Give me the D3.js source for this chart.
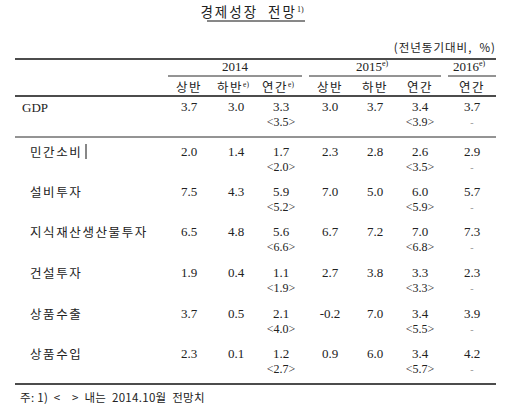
<!DOCTYPE html>
<html><head><meta charset="utf-8">
<script src="https://cdn.jsdelivr.net/npm/d3@7"></script>
<style>body{margin:0;background:#fff} text{white-space:pre}</style></head>
<body><svg id="c" width="505" height="411"></svg>
<script>
const categories = ["GDP","민간소비","설비투자","지식재산생산물투자","건설투자","상품수출","상품수입"];
const columns = ["상반","하반","연간","상반","하반","연간","연간"];
const colSup = ["","e)","e)","","","",""];
const years = [{y:"2014",sup:"",from:0,to:2},{y:"2015",sup:"e)",from:3,to:5},{y:"2016",sup:"e)",from:6,to:6}];
const values = [
 ["3.7","3.0","3.3","3.0","3.7","3.4","3.7"],
 ["2.0","1.4","1.7","2.3","2.8","2.6","2.9"],
 ["7.5","4.3","5.9","7.0","5.0","6.0","5.7"],
 ["6.5","4.8","5.6","6.7","7.2","7.0","7.3"],
 ["1.9","0.4","1.1","2.7","3.8","3.3","2.3"],
 ["3.7","0.5","2.1","-0.2","7.0","3.4","3.9"],
 ["2.3","0.1","1.2","0.9","6.0","3.4","4.2"]];
const prior = [
 ["<3.5>","<3.9>","-"],["<2.0>","<3.5>","-"],["<5.2>","<5.9>","-"],["<6.6>","<6.8>","-"],
 ["<1.9>","<3.3>","-"],["<4.0>","<5.5>","-"],["<2.7>","<5.7>","-"]];
const title="경제성장  전망", unit="(전년동기대비,  %)", note="주: 1)  <    >  내는  2014.10월  전망치";

const svg=d3.select("#c");
const serif="'Liberation Serif','DejaVu Serif',serif", kr="'Noto Sans CJK KR',sans-serif";
const col="#222";
const x=d3.scaleOrdinal().domain(d3.range(7)).range([189,236,281,330,375,420,472]);
const y=d3.scaleOrdinal().domain(d3.range(7)).range([111,156,196,236,277,318,358]);
const line=(x1,x2,yy,w)=>svg.append("line").attr("x1",x1).attr("x2",x2).attr("y1",yy).attr("y2",yy).attr("stroke","#111").attr("stroke-width",w);
const txt=(s,xx,yy,opt={})=>svg.append("text").attr("x",xx).attr("y",yy).attr("text-anchor",opt.a||"middle")
  .attr("font-family",opt.f||serif).attr("font-size",opt.s||13).attr("letter-spacing",opt.ls||0).attr("fill",col).text(s);

const t=txt(title,252,17,{f:kr,s:13.5,ls:2});
t.append("tspan").attr("font-size",8).attr("dy",-5).attr("letter-spacing",0).attr("font-family",serif).text("1)");
line(207,305,21,1);
txt(unit,496,52,{a:"end",f:kr,s:11.5,ls:1});
line(15,496,59,1.3);
years.forEach(d=>{
  const cx=(x(d.from)+x(d.to))/2;
  const e=txt(d.y,cx-(d.sup?3:0),71);
  if(d.sup) e.append("tspan").attr("font-size",8).attr("dy",-5).text(d.sup);
  line(x(d.from)-(d.from===6?24:21),x(d.to)+(d.to===6?24:21),76,0.9);
});
columns.forEach((c,i)=>{
  const e=txt(c,x(i)-(colSup[i]?3:0),92,{f:kr,s:12.5,ls:1.5});
  if(colSup[i]) e.append("tspan").attr("font-size",7.5).attr("dy",-5).attr("letter-spacing",0).attr("font-family",serif).text(colSup[i]);
});
line(15,496,96,1.3);
categories.forEach((c,r)=>{
  txt(c,r===0?22:30,y(r)+1,{a:"start",f:r===0?serif:kr,s:r===0?13:12.5,ls:r===0?0:1.6});
  values[r].forEach((v,i)=>txt(v,x(i),y(r)));
  [2,5].forEach((ci,k)=>txt(prior[r][k],x(ci),y(r)+15,{s:12}));
  txt(prior[r][2],x(6),y(r)+15,{s:10}).attr("fill","#999");
});
svg.append("line").attr("x1",86).attr("x2",86).attr("y1",y(1)-12).attr("y2",y(1)+3).attr("stroke","#111");
line(15,496,137,0.9);
line(15,496,384,1.3);
txt(note,20,402,{a:"start",f:kr,s:11.5,ls:0.3});
</script></body></html>
